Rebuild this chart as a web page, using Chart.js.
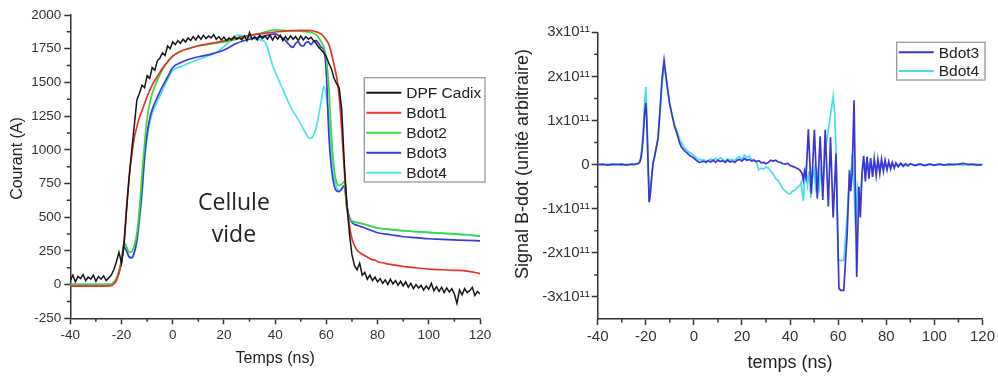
<!DOCTYPE html>
<html>
<head>
<meta charset="utf-8">
<script src="https://cdn.jsdelivr.net/npm/chart.js@4.4.0/dist/chart.umd.min.js"></script>
<style>
  html, body { margin: 0; padding: 0; background: #fff; }
  #wrap { position: relative; width: 998px; height: 376px; overflow: hidden; background: #fff; }
  #chartCourant { position: absolute; left: 0; top: 0; }
  #chartBdot { position: absolute; left: 500px; top: 0; }
</style>
</head>
<body>
<div id="wrap">
  <canvas id="chartCourant" width="500" height="376"></canvas>
  <canvas id="chartBdot" width="498" height="376"></canvas>
</div>
<script>
// ---- Courant (A) : graphique de gauche ----
const tCadix = [-40,-39,-38,-37,-36,-35,-34,-33,-32,-31,-30,-29,-28,-27,-26,-25,-24,
  -23,-22,-21,-20,-19,-18,-17,-16,-15,-14,-13,-12,-11,-10,-9,-8,-7,-6,-5,-4,-3,-2,-1,0,
  1,2,3,4,5,6,7,8,9,10,11,12,13,14,15,16,17,18,19,20,21,22,23,24,25,26,27,28,29,30,
  31,32,33,34,35,36,37,38,39,40,41,42,43,44,45,46,47,48,49,50,51,52,53,54,55,56,57,58,59,60,
  61,62,63,64,65,66,67,68,69,70,71,72,73,74,75,76,77,78,79,80,81,82,83,84,85,86,87,88,89,90,
  91,92,93,94,95,96,97,98,99,100,101,102,103,104,105,106,107,108,109,110,111,112,113,114,115,116,117,118,119,120];
const courantCadix = [30,70,20,60,45,75,30,55,40,70,25,60,40,65,30,50,70,
  110,170,240,160,300,560,800,1000,1180,1370,1420,1480,1460,1550,1530,1610,1590,1660,1680,1720,1700,1770,1750,1800,
  1780,1810,1790,1820,1800,1830,1810,1840,1815,1845,1820,1850,1825,1845,1830,1855,1820,1840,1815,1835,1810,1830,1815,1840,1820,1835,1815,1845,1810,1870,
  1820,1840,1815,1850,1825,1845,1820,1850,1815,1845,1820,1850,1810,1840,1815,1845,1820,1840,1810,1845,1815,1840,1820,1835,1810,1790,1760,1740,1720,1690,
  1640,1600,1530,1490,1460,1300,900,600,380,220,140,110,160,70,90,40,70,30,55,20,45,10,35,0,40,5,30,-5,25,-10,
  20,-20,10,-30,0,-25,-5,-40,-10,-35,10,-45,-15,-50,-20,-60,-25,-55,-30,-70,-140,-40,-75,-30,-60,-45,-20,-80,-50,-70];

const tBdot1 = [-40,-30,-24,-23,-22,-21,-20,-19,-18,-17,-16,-15,-14,-13,-12,-10,-8,-6,-4,-2,0,3,6,10,15,20,25,30,35,40,45,50,54,56,58,60,61,62,63,64,65,66,67,68,69,70,71,72,74,76,78,79,80,82,85,90,95,100,105,110,115,118,120];
const courantBdot1 = [-12,-12,-8,5,30,90,170,320,580,800,960,1090,1170,1240,1290,1395,1480,1545,1605,1655,1695,1730,1750,1772,1790,1808,1830,1850,1862,1874,1882,1886,1884,1876,1858,1815,1780,1715,1630,1540,1400,1150,850,600,440,340,290,255,225,205,185,182,170,162,150,135,125,115,110,106,100,90,82];

const tBdot2 = [-40,-25,-24,-23,-22,-21,-20,-19,-18,-17,-16,-15,-14,-13,-12,-11,-10,-9,-8,-6,-4,-2,0,3,6,10,15,20,25,30,35,40,45,50,54,56,58,59,60,61,62,63,64,65,66,67,68,69,70,72,75,80,85,90,95,100,105,110,115,120];
const courantBdot2 = [0,0,2,20,50,100,190,310,280,240,245,290,380,560,820,1050,1230,1340,1420,1515,1595,1650,1695,1730,1750,1772,1785,1800,1820,1845,1868,1890,1885,1880,1870,1855,1800,1760,1680,1450,1100,860,760,735,745,765,560,490,470,460,448,420,410,400,394,388,382,377,370,360];

const tBdot3 = [-40,-25,-24,-23,-22,-21,-20,-19,-18,-17,-16,-15,-14,-13,-12,-11,-10,-9,-8,-6,-4,-2,0,3,6,10,15,20,25,30,35,38,40,42,44,45,46,47,48,49,50,51,52,53,54,55,56,57,58,59,60,61,62,63,64,65,66,67,68,69,70,72,75,80,85,90,95,100,105,110,115,120];
const courantBdot3 = [0,0,2,15,40,90,170,280,250,205,200,240,330,500,700,950,1120,1230,1300,1390,1470,1540,1610,1645,1670,1690,1710,1740,1790,1820,1840,1855,1860,1840,1812,1790,1770,1760,1790,1800,1775,1770,1795,1800,1780,1805,1810,1790,1760,1740,1560,1100,860,740,695,690,710,735,580,500,460,440,420,385,370,355,348,340,336,332,328,325];

const tBdot4 = [-40,-25,-24,-23,-22,-21,-20,-19,-18,-17,-16,-15,-14,-13,-12,-11,-10,-9,-8,-6,-4,-2,0,3,6,10,15,18,20,22,24,26,28,30,33,35,36,37,38,39,40,42,44,46,48,50,52,53,54,55,56,57,58,59,60,61,62,63,64,65,66,67,68,69,70,72,75,80,85,90,95,100,105,110,115,120];
const courantBdot4 = [0,0,2,15,40,85,160,270,245,205,195,230,320,480,660,920,1090,1200,1270,1360,1440,1520,1590,1615,1640,1670,1705,1735,1765,1800,1840,1850,1840,1830,1820,1810,1800,1760,1690,1625,1580,1490,1405,1320,1255,1190,1120,1090,1085,1110,1160,1260,1360,1470,1400,1230,1000,810,720,695,710,730,580,500,475,462,448,418,408,398,391,385,380,375,368,357];

// ---- Signal B-dot (x10^11) : graphique de droite ----
const tSignal3 = [-40,-38,-36,-34,-32,-30,-28,-26,-25,-24,-23,-22.5,-22,-21.5,-21,-20.5,-20,-19.6,-19.2,-18.6,-18.2,-17.5,-17,-16.3,-15.6,-14.9,-14.2,-13.2,-12.4,-11.8,-11,-10.1,-9,-8,-7,-6,-5.2,-4,-3,-1.8,0,1,2.3,3,4,5,6,7,8,9,10,11,12,13,14,15,16,17,18,19,20,21,22,23,24,25,26,27,28,29,30,31,32,33,34,35,36,37,38,39,40,41,42,43,44,45,45.5,46,46.6,47.6,48.8,50.1,51.3,52.5,53.6,54.6,55.9,56.8,57.9,59.1,60.3,61,62.3,63.7,64.7,65.2,65.8,66.6,67.2,67.7,68.6,69.2,69.9,70.6,71.3,72,72.8,73.5,74.3,75,75.8,76.5,77.3,78,78.8,79.5,80.3,81,81.8,82.5,83.3,84,85,86,87,88,89,90,92,94,96,98,100,102,104,106,108,110,112,114,116,118,120];
const signalBdot3 = [0,0.01,-0.01,0.01,0,0.01,-0.01,0.01,0,0.01,0.03,0.06,0.15,0.35,0.7,1.15,1.4,1.0,0.3,-0.85,-0.7,-0.25,0.02,0.2,0.4,0.6,1.16,1.98,2.37,2.1,1.75,1.39,1.1,0.85,0.7,0.5,0.4,0.32,0.27,0.21,0.15,0.1,0.05,0.06,0.08,0.05,0.09,0.06,0.1,0.05,0.1,0.07,0.09,0.05,0.1,0.06,0.08,0.05,0.1,0.12,0.08,0.14,0.1,0.12,0.08,0.1,0.07,0.09,0.04,0.05,0.02,0.05,0.1,0.08,0.1,0.06,0.05,0.02,0.01,0.03,-0.02,-0.04,-0.06,-0.09,-0.12,-0.2,-0.35,-0.15,-0.3,0.8,-0.66,0.79,-0.77,0.64,-0.8,0.79,-0.95,0.62,-1.2,0.25,-2.8,-2.85,-2.85,-1.6,-0.13,-0.6,-0.2,1.46,-0.8,-2.55,-0.5,-1.2,-0.2,0.2,-0.38,0.18,-0.32,0.15,-0.28,0.14,-0.25,0.12,-0.2,0.12,-0.15,0.1,-0.12,0.07,-0.1,0.05,-0.08,0.04,-0.05,0.03,-0.04,0.02,-0.03,0.02,-0.02,0.01,-0.02,0.01,-0.01,0.01,-0.01,0.01,0,0.01,0.03,0,0.01,-0.01,0];

const tSignal4 = [-40,-38,-36,-34,-32,-30,-28,-26,-25,-24,-23,-22.5,-22,-21.5,-21,-20.5,-20,-19.6,-19.2,-18.6,-18.2,-17.5,-17,-16.3,-15.6,-14.9,-14.2,-13.2,-12.4,-11.8,-11,-10.1,-9,-8,-7,-6,-5.5,-5,-4,-3,-2,-1,0,1,2,3,4,5,6,7,8,9,10,11,12,13,14,15,16,17,18,19,20,21,22,23,24,25,26,27,28,29,30,31,32,33,34,35,36,37,38,39,40,41,42,43,44,44.6,45,45.5,46,46.6,47.3,47.9,48.6,49.3,50,50.6,51.3,52,52.7,53.3,54,54.6,55.4,56.2,57,57.9,58.5,59.1,60,61,62.3,63.7,64.7,65.3,65.8,66.6,67.2,68,68.6,69.2,70.2,71,72,73,74,75,76,77,78,79,80,82,84,86,88,90,92,94,96,98,100,102,104,106,108,110,112,114,116,118,120];
const signalBdot4 = [0,-0.01,0.01,-0.01,0.01,-0.02,0.01,0,0.01,0.02,0.04,0.08,0.2,0.45,0.85,1.4,1.76,1.2,0.4,-0.85,-0.7,-0.25,0.02,0.2,0.4,0.6,1.1,1.85,2.18,2.05,1.7,1.39,1.1,0.9,0.75,0.6,0.45,0.5,0.38,0.33,0.28,0.25,0.2,0.16,0.12,0.1,0.12,0.08,0.1,0.13,0.09,0.14,0.1,0.16,0.12,0.08,0.13,0.1,0.12,0.09,0.15,0.18,0.12,0.22,0.16,0.2,0.12,0.1,0.05,-0.12,-0.08,-0.1,-0.05,-0.08,-0.15,-0.22,-0.32,-0.36,-0.45,-0.55,-0.6,-0.65,-0.66,-0.6,-0.58,-0.52,-0.48,-0.4,-0.6,-0.82,-0.35,-0.1,-0.45,-0.15,-0.75,-0.3,-0.1,-0.5,-0.2,-0.55,-0.15,-0.4,-0.3,0.3,0.6,0.9,1.2,1.55,1.2,0.3,-2.17,-2.17,-2.17,-1.2,-0.2,-0.3,0.25,-0.5,-1.42,-0.5,-0.7,-0.8,-0.05,0.05,-0.1,0.03,-0.08,0.02,-0.06,0.02,-0.05,0.02,-0.04,0.01,-0.03,0.02,-0.02,0.01,-0.01,0.02,-0.01,0.01,-0.02,0.01,0,-0.02,0.01,0,-0.01,0.01,-0.01,0.01,0];

const police = "'Liberation Sans', Arial, sans-serif";
const grisAxe = '#333';

function points(temps, valeurs) {
    return temps.map((t, i) => ({ x: t, y: valeurs[i] }));
}

// dessine les petites graduations, le titre vertical, la légende et le texte libre
const decorPlugin = {
    id: 'decor',
    afterDraw(chart, args, opts) {
        const ctx = chart.ctx;
        const area = chart.chartArea;
        const sx = chart.scales.x;
        const sy = chart.scales.y;
        ctx.save();

        ctx.strokeStyle = grisAxe;
        ctx.lineWidth = 1.5;
        ctx.beginPath();
        for (let v = opts.minorX.start; v < sx.max; v += opts.minorX.step) {
            const px = sx.getPixelForValue(v);
            ctx.moveTo(px, area.bottom);
            ctx.lineTo(px, area.bottom + 3.5);
        }
        for (let v = opts.minorY.start; v < sy.max; v += opts.minorY.step) {
            const py = sy.getPixelForValue(v);
            ctx.moveTo(area.left, py);
            ctx.lineTo(area.left - 3.5, py);
        }
        ctx.stroke();

        // titre de l'axe vertical
        ctx.save();
        ctx.translate(opts.yTitle.x, opts.yTitle.y);
        ctx.rotate(-Math.PI / 2);
        ctx.fillStyle = '#222';
        ctx.font = opts.yTitle.size + 'px ' + police;
        ctx.textAlign = 'center';
        ctx.textBaseline = 'middle';
        ctx.fillText(opts.yTitle.text, 0, 0);
        ctx.restore();

        // légende
        const lg = opts.legend;
        ctx.save();
        ctx.fillStyle = '#fff';
        ctx.fillRect(lg.x, lg.y, lg.w, lg.h);
        ctx.strokeStyle = '#999';
        ctx.lineWidth = 1.3;
        ctx.strokeRect(lg.x, lg.y, lg.w, lg.h);
        ctx.beginPath();
        ctx.rect(lg.x, lg.y, lg.w, lg.h);
        ctx.clip();
        ctx.font = lg.size + 'px ' + police;
        ctx.textBaseline = 'middle';
        chart.data.datasets.forEach((ds, i) => {
            const y = lg.y + lg.first + i * lg.row;
            ctx.strokeStyle = ds.borderColor;
            ctx.lineWidth = 2;
            ctx.beginPath();
            ctx.moveTo(lg.x + 2, y);
            ctx.lineTo(lg.x + 2 + lg.line, y);
            ctx.stroke();
            ctx.fillStyle = '#222';
            ctx.fillText(ds.label, lg.x + lg.line + 7, y + 1);
        });
        ctx.restore();

        // texte libre dans le graphique
        (opts.notes || []).forEach(n => {
            ctx.fillStyle = '#222';
            ctx.font = n.size + "px 'Open Sans', sans-serif";
            ctx.textAlign = 'center';
            ctx.textBaseline = 'middle';
            ctx.fillText(n.text, sx.getPixelForValue(n.x), sy.getPixelForValue(n.y));
        });

        ctx.restore();
    }
};

function axeOptions(extra) {
    return Object.assign({
        type: 'linear',
        border: { color: grisAxe, width: 1.5 },
        grid: { drawOnChartArea: false, tickLength: 6, tickColor: grisAxe, tickWidth: 1.5 },
    }, extra);
}

const courantChart = new Chart(document.getElementById('chartCourant'), {
    type: 'line',
    data: {
        datasets: [
            { label: 'DPF Cadix', data: points(tCadix, courantCadix), borderColor: '#151515', borderWidth: 1.5 },
            { label: 'Bdot1', data: points(tBdot1, courantBdot1), borderColor: '#e5342e', cubicInterpolationMode: 'monotone' },
            { label: 'Bdot2', data: points(tBdot2, courantBdot2), borderColor: '#3cd83c', cubicInterpolationMode: 'monotone' },
            { label: 'Bdot3', data: points(tBdot3, courantBdot3), borderColor: '#3a3ad6', cubicInterpolationMode: 'monotone' },
            { label: 'Bdot4', data: points(tBdot4, courantBdot4), borderColor: '#48e4ee', cubicInterpolationMode: 'monotone' }
        ]
    },
    options: {
        responsive: false,
        animation: false,
        devicePixelRatio: 1,
        layout: { padding: { top: 15, right: 20, left: 0, bottom: 0 } },
        elements: { point: { radius: 0 }, line: { borderWidth: 1.7, fill: false } },
        plugins: {
            legend: { display: false },
            tooltip: { enabled: false },
            decor: {
                minorX: { start: -30, step: 20 },
                minorY: { start: -125, step: 250 },
                yTitle: { text: 'Courant (A)', x: 17.5, y: 158.5, size: 16 },
                legend: { x: 364.3, y: 77.7, w: 120.7, h: 104.3, first: 15, row: 20, line: 35, size: 15.5 },
                notes: [
                    { text: 'Cellule', x: 23.9, y: 603, size: 23 },
                    { text: 'vide', x: 23.9, y: 366, size: 23 }
                ]
            }
        },
        scales: {
            x: axeOptions({
                min: -40, max: 120,
                afterFit: s => { s.height = 57.7; },
                ticks: { stepSize: 20, maxRotation: 0, autoSkip: false, padding: 3, color: grisAxe,
                         font: { family: police, size: 13.5 }, callback: v => String(v) },
                title: { display: true, text: 'Temps (ns)', color: '#222', font: { family: police, size: 16 },
                         padding: { top: 0, bottom: 7.4 } }
            }),
            y: axeOptions({
                min: -250, max: 2000,
                afterFit: s => { s.width = 70.3; },
                ticks: { stepSize: 250, padding: 3, color: grisAxe, font: { family: police, size: 13.5 },
                         callback: v => String(v) }
            })
        }
    },
    plugins: [decorPlugin]
});

const bdotChart = new Chart(document.getElementById('chartBdot'), {
    type: 'line',
    data: {
        datasets: [
            { label: 'Bdot3', data: points(tSignal3, signalBdot3), borderColor: '#3b35d4' },
            { label: 'Bdot4', data: points(tSignal4, signalBdot4), borderColor: '#46dfe8' }
        ]
    },
    options: {
        responsive: false,
        animation: false,
        devicePixelRatio: 1,
        layout: { padding: { top: 32.3, right: 13.7, left: 0, bottom: 0 } },
        elements: { point: { radius: 0 }, line: { borderWidth: 1.7, tension: 0, fill: false } },
        plugins: {
            legend: { display: false },
            tooltip: { enabled: false },
            decor: {
                minorX: { start: -30, step: 20 },
                minorY: { start: -2.5, step: 1 },
                yTitle: { text: 'Signal B-dot (unité arbitraire)', x: 23.3, y: 164, size: 18 },
                legend: { x: 396.7, y: 42.3, w: 88.3, h: 37.7, first: 10, row: 18.7, line: 35, size: 15.5 }
            }
        },
        scales: {
            x: axeOptions({
                min: -40, max: 120,
                afterFit: s => { s.height = 57; },
                ticks: { stepSize: 20, maxRotation: 0, autoSkip: false, padding: 3, color: grisAxe,
                         font: { family: police, size: 15 }, callback: v => String(v) },
                title: { display: true, text: 'temps (ns)', color: '#222', font: { family: police, size: 18 },
                         padding: { top: 0, bottom: 2.5 } }
            }),
            y: axeOptions({
                min: -3.5, max: 3,
                afterFit: s => { s.width = 97.7; },
                ticks: { stepSize: 1, includeBounds: false, padding: 2, color: grisAxe, font: { family: police, size: 15 },
                         callback: v => v === 0 ? '0' : v + 'x10\u00B9\u00B9' }
            })
        }
    },
    plugins: [decorPlugin]
});
</script>
</body>
</html>
